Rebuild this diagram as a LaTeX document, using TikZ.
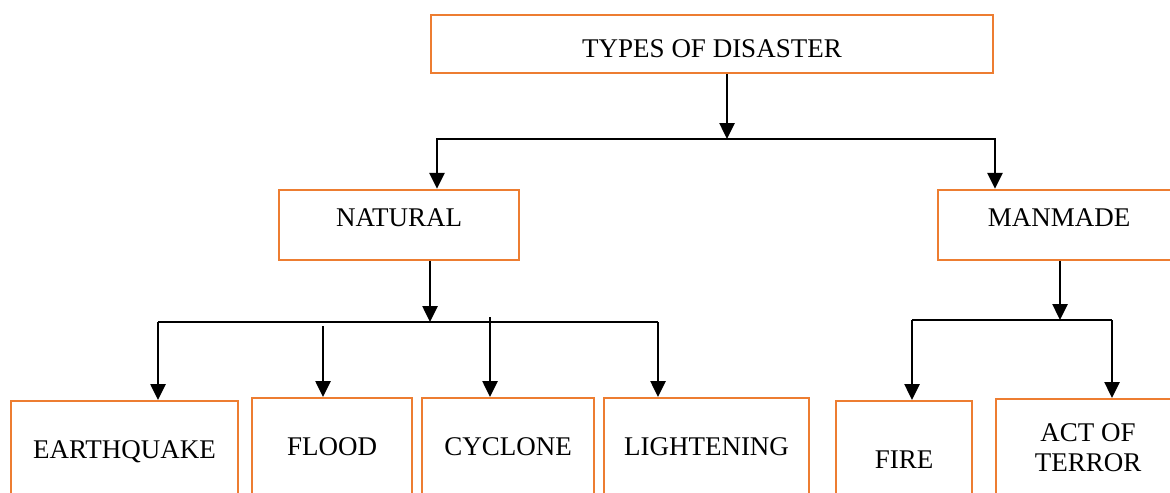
\documentclass[tikz,border=0pt]{standalone}
\usepackage{fontspec}
\setmainfont{Liberation Serif}
\usepackage{tikz}
\usetikzlibrary{arrows.meta,positioning,calc}
\definecolor{boxorange}{RGB}{237,125,49}

\begin{document}
\begin{tikzpicture}[x=0.5pt,y=-0.5pt,
  box/.style={draw=boxorange,line width=1.2pt,rectangle,inner sep=0pt,font=\fontsize{13.5}{15}\selectfont},
  mid/.style={box,minimum height=35pt,text height=9pt,text depth=8pt},
  low/.style={box,anchor=north,minimum height=48pt,text height=9pt,text depth=0pt},
  arr/.style={line width=1.3pt,-{Triangle[length=8pt,width=7.5pt]}},
  bus/.style={line width=1.3pt}]
\useasboundingbox (0,0) rectangle (1170,492);
\clip (0,0) rectangle (1170,492);

\node[box,minimum width=281pt,minimum height=29pt,text height=14pt,text depth=0pt] (T) at (712,44) {TYPES OF DISASTER};
\node[mid,minimum width=120pt] (N) at (399,225) {NATURAL};
\node[mid,minimum width=121pt] (M) at (1059,225) {MANMADE};

\node[low,minimum width=113.5pt] (EQ) at (124.5,400) {EARTHQUAKE};
\node[low,minimum width=80pt] (FL) at (332,397) {FLOOD};
\node[low,minimum width=86pt] (CY) at (508,397) {CYCLONE};
\node[low,minimum width=102.5pt] (LI) at (706.5,397) {LIGHTENING};
\node[low,minimum width=68pt,text height=19pt] (FI) at (904,400) {FIRE};
\node[box,anchor=north,minimum height=48pt,minimum width=92pt,align=center] (AT) at (1088,398) {ACT OF\\TERROR};

\coordinate (t0) at (727,139);
\draw[arr] (t0 |- T.south) -- (t0);
\draw[arr] (t0) -| ([xshift=19pt]N.north);
\draw[arr] (t0) -| ([xshift=-32pt]M.north);

\coordinate (n0) at (430,322);
\coordinate (nl) at (158,322);
\coordinate (nr) at (658,322);
\coordinate (n2) at (323,326);
\coordinate (n3) at (490,317);
\draw[arr] (n0 |- N.south) -- (n0);
\draw[bus] (nl) -- (nr);
\draw[arr] (nl) -- (nl |- EQ.north);
\draw[arr] (n2) -- (n2 |- FL.north);
\draw[arr] (n3) -- (n3 |- CY.north);
\draw[arr] (nr) -- (nr |- LI.north);

\coordinate (m0) at (1060,320);
\coordinate (ml) at (912,320);
\coordinate (mr) at (1112,320);
\draw[arr] (m0 |- M.south) -- (m0);
\draw[bus] (ml) -- (mr);
\draw[arr] (ml) -- (ml |- FI.north);
\draw[arr] (mr) -- (mr |- AT.north);
\end{tikzpicture}
\end{document}
